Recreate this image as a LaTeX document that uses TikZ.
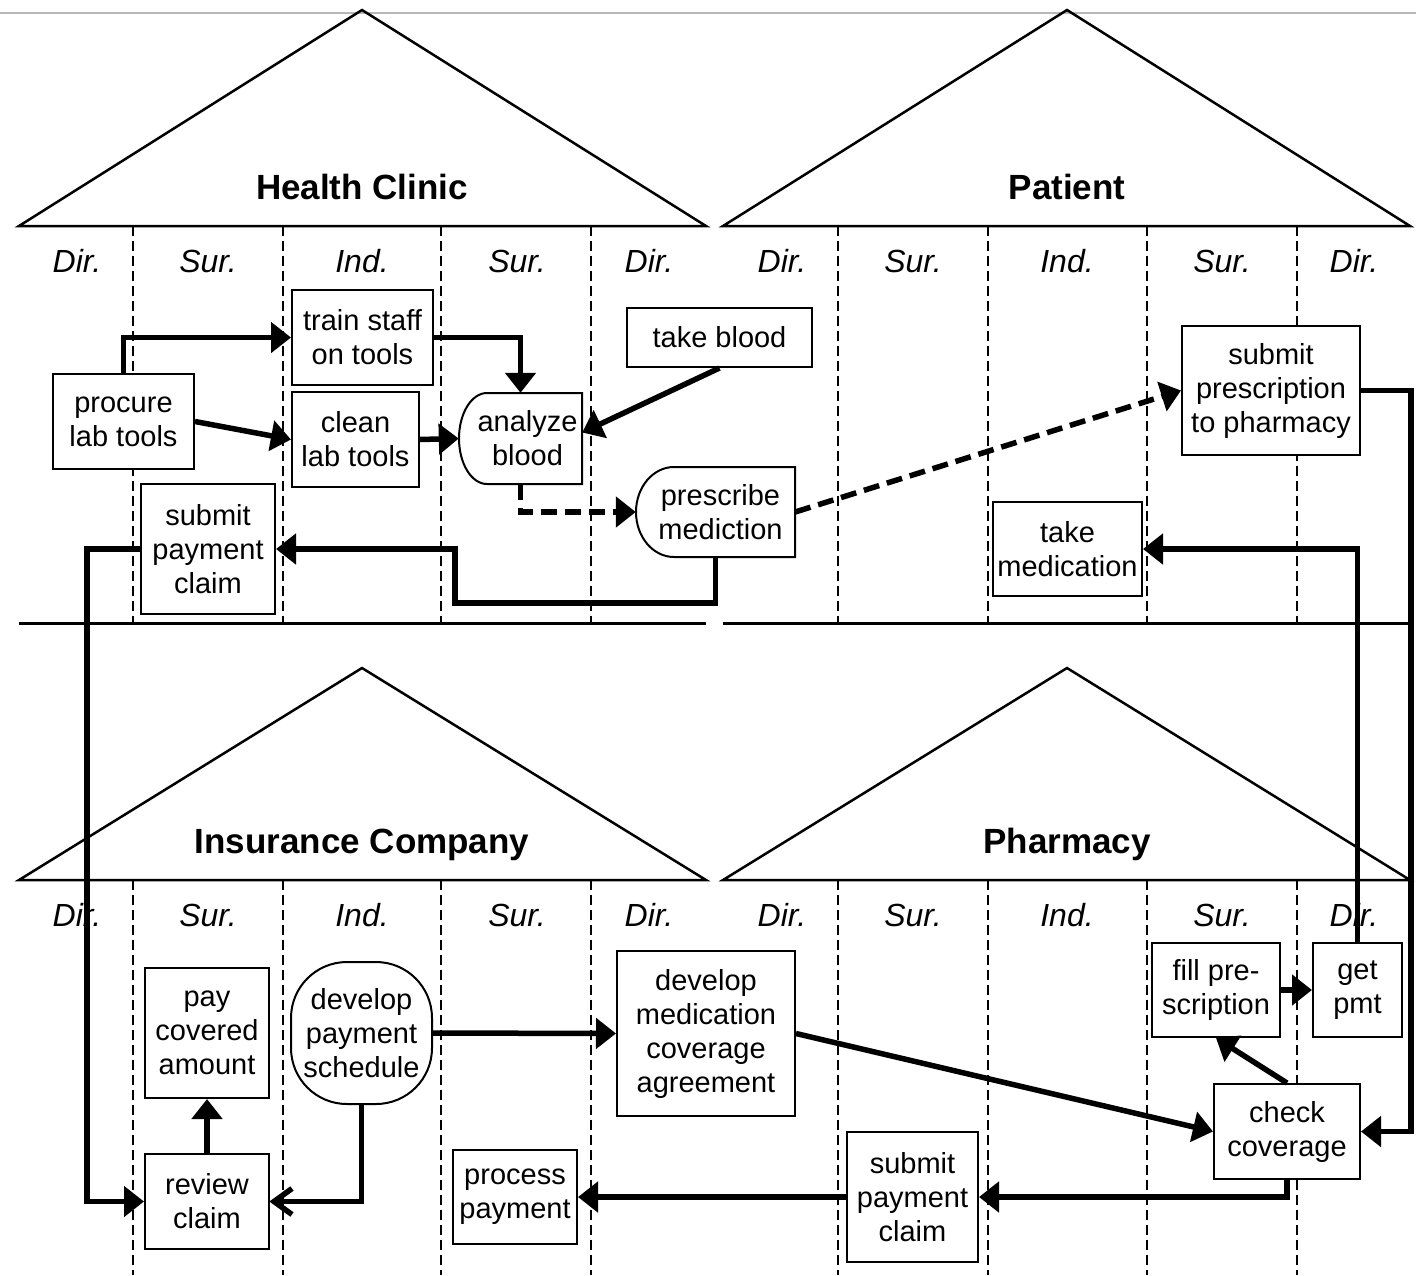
\documentclass[tikz,border=0pt]{standalone}
\usepackage{fontspec}
\setmainfont{Liberation Sans}
\usetikzlibrary{arrows.meta,calc}
\begin{document}
\begin{tikzpicture}[x=1pt,y=-1pt,
  box/.style={draw, fill=white, line width=2pt, align=center, inner sep=0pt, font=\fontsize{29}{34}\selectfont},
  ghost/.style={draw=none, align=center, inner sep=0pt, font=\fontsize{29}{34}\selectfont},
  lane/.style={font=\fontsize{32}{38}\selectfont\itshape, anchor=base, inner sep=0pt},
  title/.style={font=\fontsize{35}{40}\selectfont\bfseries, anchor=base, inner sep=0pt},
  roof/.style={line width=2.5pt, line join=miter},
  sep/.style={line width=3pt},
  lanesep/.style={line width=2pt, dash pattern=on 10pt off 5pt},
  conn/.style={line width=5.5pt, -{Triangle[length=20pt,width=30pt]}},
  dconn/.style={conn, dash pattern=on 16pt off 8pt},
  oconn/.style={line width=5.5pt, line join=miter},
  outline/.style={line width=2pt, fill=white}
]
\useasboundingbox (0,0) rectangle (1416,1275);
\fill[white] (0,0) rectangle (1416,1275);
% gray top rule
\draw[line width=2pt, color=black!28] (0,13) -- (1416,13);

% roofs
\draw[roof] (19,226) -- (362,10) -- (706,226) -- cycle;
\draw[roof] (723,226) -- (1067,10) -- (1410,226) -- cycle;
\draw[roof] (19,880) -- (362,668) -- (706,880) -- cycle;
\draw[roof] (723,880) -- (1067,668) -- (1410,880) -- cycle;

\node[title] (tHC) at (362,199) {Health Clinic};
\node[title] (tPA) at (1067,199) {Patient};
\node[title] (tIC) at (362,853) {Insurance Company};
\node[title] (tPH) at (1067,853) {Pharmacy};

% separators
\draw[sep] (19,623) -- (706,623);
\draw[sep] (723,623) -- (1411,623);

% lane dashed lines
\foreach \x in {133,283,441,591,838,988,1147,1297}{
  \draw[lanesep] (\x,226) -- (\x,623);
  \draw[lanesep] (\x,880) -- (\x,1275);
}

% lane labels
\foreach \x/\t [count=\i] in {77/Dir.,208/Sur.,362/Ind.,517/Sur.,649/Dir.,782/Dir.,913/Sur.,1067/Ind.,1222/Sur.,1354/Dir.}{
  \node[lane] (lt\i) at (\x,272) {\t};
  \node[lane] (lb\i) at (\x,926) {\t};
}

% outlines of the rounded nodes
\draw[outline] (582,393) -- (582,484) -- (487,484)
  .. controls (471.5,484) and (459,463.6) .. (459,438.5)
  .. controls (459,413.4) and (471.5,393) .. (487,393) -- cycle;
\draw[outline] (795,467) -- (795,557) -- (674,557)
  .. controls (653,557) and (636,536.8) .. (636,512)
  .. controls (636,487.2) and (653,467) .. (674,467) -- cycle;
\draw[outline, rounded corners=56pt] (291,962) rectangle (432,1104);

% nodes: health clinic / patient
\node[box, minimum width=141pt, minimum height=95pt] (procure) at (123.5,421.5) {procure\\lab tools};
\node[box, minimum width=141pt, minimum height=95pt] (train) at (362.5,337.5) {train staff\\on tools};
\node[box, minimum width=127pt, minimum height=95pt] (clean) at (355.5,439.5) {clean\\lab tools};
\node[ghost, minimum width=123pt, minimum height=91pt] (analyze) at (520.5,438.5) {\hspace*{14pt}analyze\\\hspace*{14pt}blood};
\node[box, minimum width=185pt, minimum height=59pt] (takeblood) at (719.5,337.5) {take blood};
\node[ghost, minimum width=159pt, minimum height=90pt] (prescribe) at (715.5,512) {\hspace*{10pt}prescribe\\\hspace*{10pt}mediction};
\node[box, minimum width=134pt, minimum height=130pt] (spc1) at (208,549) {submit\\payment\\claim};
\node[box, minimum width=178pt, minimum height=129pt] (spres) at (1271,390.5) {submit\\prescription\\to pharmacy};
\node[box, minimum width=149pt, minimum height=94pt] (takemed) at (1067.5,549) {take\\medication};

% nodes: insurance / pharmacy
\node[box, minimum width=124pt, minimum height=130pt] (pay) at (207,1033) {pay\\covered\\amount};
\node[ghost, minimum width=141pt, minimum height=142pt] (devpay) at (361.5,1033) {develop\\payment\\schedule};
\node[box, minimum width=124pt, minimum height=95pt] (review) at (207,1201.5) {review\\claim};
\node[box, minimum width=124pt, minimum height=94pt] (process) at (515,1197) {process\\payment};
\node[box, minimum width=178pt, minimum height=165pt] (devmed) at (706,1033.5) {develop\\medication\\coverage\\agreement};
\node[box, minimum width=128pt, minimum height=94pt] (fill) at (1216,990) {fill pre-\\scription};
\node[box, minimum width=89pt, minimum height=94pt] (getpmt) at (1357.5,990) {get\\pmt};
\node[box, minimum width=146pt, minimum height=95pt] (check) at (1287,1131.5) {check\\coverage};
\node[box, minimum width=131pt, minimum height=130pt] (spc2) at (912.5,1197) {submit\\payment\\claim};

% bend coordinates
\coordinate (b1) at (455,603);
\coordinate (b2) at (87,900);
\coordinate (b3) at (1411,700);

% connectors
\draw[conn] (procure.north) |- (train.west);
\draw[conn] (procure.east) -- (clean.west);
\draw[conn] (train.east) -| (analyze.north);
\draw[conn] (clean.east) -- (analyze.west);
\draw[conn] (takeblood.south) -- ([yshift=6pt]analyze.east);
\draw[dconn] (analyze.south) |- (prescribe.west);
\draw[dconn] (prescribe.east) -- (spres.west);
\draw[conn] (prescribe.south) |- (b1) |- (spc1.east);
\draw[conn] (spc1.west) -| (b2) |- (review.west);
\draw[conn] (spres.east) -| (b3) |- (check.east);
\draw[conn] (getpmt.north) |- (takemed.east);
\draw[conn] (fill.east) -- (getpmt.west);
\draw[conn] (check.north) -- (fill.south);
\draw[conn] (devmed.east) -- (check.west);
\draw[conn] (devpay.east) -- (devmed.west);
\draw[conn] (review.north) -- (pay.south);
\draw[oconn] (devpay.south) |- ([xshift=4pt]review.east);
\draw[oconn] ([xshift=22pt,yshift=13pt]review.east) -- ([xshift=4pt]review.east) -- ([xshift=22pt,yshift=-13pt]review.east);
\draw[conn] (check.south) |- (spc2.east);
\draw[conn] (spc2.west) -- (process.east);
\end{tikzpicture}
\end{document}
